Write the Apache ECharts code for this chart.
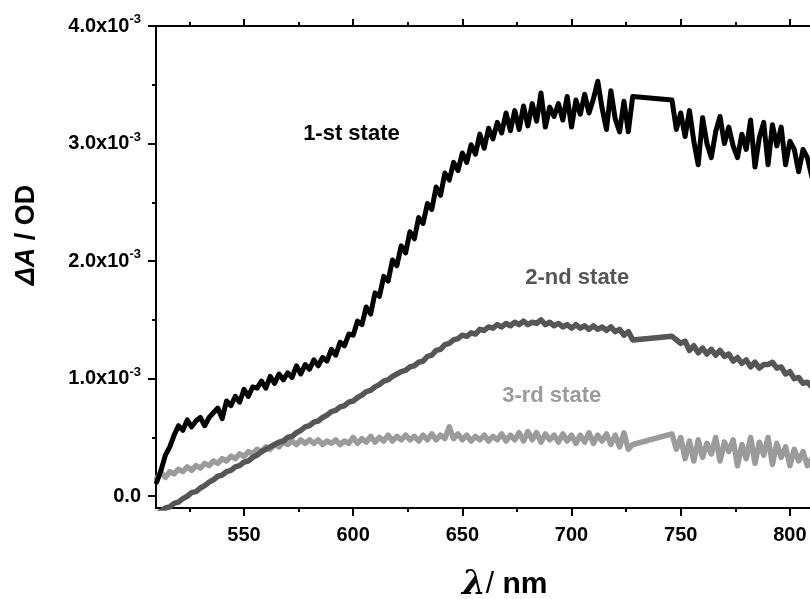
<!DOCTYPE html>
<html>
<head>
<meta charset="utf-8">
<title>Transient absorption states</title>
<script src="https://cdn.jsdelivr.net/npm/echarts@6/dist/echarts.min.js"></script>
<style>
  html, body { margin: 0; padding: 0; background: #fff; }
  #chart { width: 810px; height: 599px; }
</style>
</head>
<body>
<div id="chart"></div>
<script>
// wavelength, nm (no data between 728 and 746 nm)
const wavelength = [
  510, 512, 514, 516, 518, 520, 522, 524, 526, 528,
  530, 532, 534, 536, 538, 540, 542, 544, 546, 548,
  550, 552, 554, 556, 558, 560, 562, 564, 566, 568,
  570, 572, 574, 576, 578, 580, 582, 584, 586, 588,
  590, 592, 594, 596, 598, 600, 602, 604, 606, 608,
  610, 612, 614, 616, 618, 620, 622, 624, 626, 628,
  630, 632, 634, 636, 638, 640, 642, 644, 646, 648,
  650, 652, 654, 656, 658, 660, 662, 664, 666, 668,
  670, 672, 674, 676, 678, 680, 682, 684, 686, 688,
  690, 692, 694, 696, 698, 700, 702, 704, 706, 708,
  710, 712, 714, 716, 718, 720, 722, 724, 726, 728,
  746, 748, 750, 752, 754, 756, 758, 760, 762, 764,
  766, 768, 770, 772, 774, 776, 778, 780, 782, 784,
  786, 788, 790, 792, 794, 796, 798, 800, 802, 804,
  806, 808, 810
];

// ΔA in units of 1e-3 OD
const state1 = [
  0.12, 0.22, 0.35, 0.42, 0.52, 0.60, 0.56, 0.65, 0.59, 0.64,
  0.67, 0.60, 0.67, 0.71, 0.75, 0.66, 0.81, 0.77, 0.85, 0.80,
  0.91, 0.85, 0.93, 0.92, 0.98, 0.92, 1.02, 0.96, 1.04, 0.99,
  1.05, 1.01, 1.11, 1.04, 1.12, 1.08, 1.16, 1.11, 1.18, 1.15,
  1.25, 1.20, 1.31, 1.28, 1.38, 1.37, 1.49, 1.46, 1.61, 1.55,
  1.73, 1.70, 1.87, 1.83, 2.01, 1.96, 2.13, 2.07, 2.25, 2.19,
  2.37, 2.32, 2.49, 2.44, 2.63, 2.56, 2.75, 2.69, 2.84, 2.77,
  2.92, 2.84, 2.99, 2.91, 3.08, 2.96, 3.13, 3.04, 3.18, 3.09,
  3.26, 3.11, 3.28, 3.12, 3.32, 3.15, 3.34, 3.19, 3.43, 3.14,
  3.31, 3.23, 3.34, 3.20, 3.40, 3.14, 3.37, 3.25, 3.42, 3.26,
  3.38, 3.53, 3.30, 3.12, 3.45, 3.21, 3.10, 3.36, 3.10, 3.40,
  3.37, 3.12, 3.26, 3.06, 3.28, 3.02, 2.82, 3.22, 3.00, 2.88,
  3.10, 3.23, 3.00, 3.14, 2.98, 2.88, 3.08, 2.95, 3.20, 2.80,
  3.05, 3.18, 2.82, 3.16, 2.98, 3.14, 2.82, 3.02, 2.95, 2.76,
  2.95, 2.88, 2.72
];
const state2 = [
  -0.15, -0.13, -0.10, -0.09, -0.06, -0.05, -0.02, 0.00, 0.03, 0.04,
  0.07, 0.09, 0.12, 0.14, 0.17, 0.18, 0.21, 0.22, 0.25, 0.26,
  0.29, 0.30, 0.33, 0.35, 0.38, 0.40, 0.42, 0.44, 0.46, 0.47,
  0.50, 0.51, 0.54, 0.56, 0.59, 0.60, 0.63, 0.64, 0.67, 0.69,
  0.72, 0.73, 0.76, 0.77, 0.80, 0.81, 0.84, 0.86, 0.89, 0.90,
  0.93, 0.95, 0.98, 0.99, 1.02, 1.04, 1.06, 1.07, 1.10, 1.11,
  1.14, 1.15, 1.19, 1.20, 1.24, 1.25, 1.29, 1.30, 1.33, 1.34,
  1.37, 1.36, 1.39, 1.38, 1.42, 1.41, 1.44, 1.43, 1.46, 1.44,
  1.47, 1.45, 1.48, 1.46, 1.49, 1.46, 1.48, 1.47, 1.50, 1.46,
  1.48, 1.45, 1.47, 1.44, 1.46, 1.43, 1.46, 1.43, 1.45, 1.42,
  1.45, 1.42, 1.44, 1.41, 1.44, 1.40, 1.42, 1.37, 1.40, 1.33,
  1.36, 1.33, 1.30, 1.32, 1.24, 1.28, 1.22, 1.26, 1.21, 1.25,
  1.20, 1.24, 1.19, 1.21, 1.15, 1.18, 1.13, 1.16, 1.10, 1.14,
  1.09, 1.12, 1.12, 1.14, 1.09, 1.10, 1.04, 1.06, 1.00, 1.01,
  0.96, 0.97, 0.93
];
const state3 = [
  0.15, 0.20, 0.16, 0.21, 0.19, 0.23, 0.21, 0.25, 0.22, 0.26,
  0.24, 0.28, 0.26, 0.30, 0.28, 0.32, 0.30, 0.34, 0.32, 0.36,
  0.34, 0.38, 0.36, 0.40, 0.38, 0.42, 0.40, 0.44, 0.42, 0.46,
  0.44, 0.47, 0.44, 0.48, 0.45, 0.48, 0.45, 0.48, 0.44, 0.47,
  0.45, 0.48, 0.44, 0.47, 0.45, 0.50, 0.45, 0.49, 0.46, 0.51,
  0.46, 0.50, 0.47, 0.52, 0.47, 0.51, 0.48, 0.52, 0.48, 0.51,
  0.47, 0.52, 0.48, 0.53, 0.48, 0.52, 0.49, 0.59, 0.49, 0.53,
  0.48, 0.52, 0.47, 0.51, 0.48, 0.52, 0.47, 0.51, 0.48, 0.53,
  0.47, 0.52, 0.48, 0.54, 0.47, 0.55, 0.48, 0.54, 0.46, 0.53,
  0.48, 0.52, 0.46, 0.53, 0.47, 0.52, 0.45, 0.52, 0.46, 0.54,
  0.45, 0.52, 0.47, 0.53, 0.44, 0.52, 0.42, 0.54, 0.40, 0.44,
  0.53, 0.40, 0.50, 0.32, 0.47, 0.30, 0.48, 0.33, 0.45, 0.36,
  0.50, 0.30, 0.46, 0.38, 0.48, 0.26, 0.44, 0.32, 0.50, 0.28,
  0.46, 0.35, 0.50, 0.27, 0.45, 0.33, 0.42, 0.26, 0.40, 0.30,
  0.38, 0.26, 0.32
];

const stateNames = ['1-st state', '2-nd state', '3-rd state'];
const stateColors = ['#000000', '#565656', '#9b9b9b'];
const stateWidths = [5, 5.5, 5.5];
// label anchors in data coordinates [nm, ΔA/1e-3]
const labelAt = [[599.2, 3.085], [702.6, 1.86], [690.9, 0.852]];

const xMajor = [550, 600, 650, 700, 750, 800];
const xMinor = [525, 575, 625, 675, 725, 775];
const yMajor = [0, 1, 2, 3, 4];
const yMinor = [0.5, 1.5, 2.5, 3.5];
const xRange = [509.7, 809.2];
const yRange = [-0.1, 4.0];

const FONT = '"Liberation Sans", Arial, sans-serif';
const chart = echarts.init(document.getElementById('chart'), null, { renderer: 'canvas' });

const pairs = vals => wavelength.map((w, i) => [w, vals[i]]);

const tick = (vals, len) => ({
  show: true, inside: false, length: len, customValues: vals,
  lineStyle: { color: '#000', width: 2 }
});
const line = show => ({ show: show, onZero: false, lineStyle: { color: '#000', width: 2 } });

function xAx(pos, vals, len, showLine, labels) {
  return {
    type: 'value', position: pos, min: xRange[0], max: xRange[1],
    splitLine: { show: false },
    axisLine: line(showLine),
    axisTick: tick(vals, len),
    axisLabel: labels ? {
      show: true, customValues: vals, margin: 17, color: '#000',
      fontFamily: FONT, fontWeight: 'bold', fontSize: 20
    } : { show: false }
  };
}
function yAx(vals, len, labels) {
  return {
    type: 'value', position: 'left', min: yRange[0], max: yRange[1],
    splitLine: { show: false },
    axisLine: line(labels),
    axisTick: tick(vals, len),
    axisLabel: labels ? {
      show: true, customValues: vals, margin: 15, color: '#000',
      formatter: v => v === 0 ? '{b|0.0}' : '{b|' + v.toFixed(1) + 'x10}{s|-3}',
      rich: {
        b: { fontFamily: FONT, fontWeight: 'bold', fontSize: 20, color: '#000', lineHeight: 26 },
        s: { fontFamily: FONT, fontWeight: 'bold', fontSize: 13, color: '#000', verticalAlign: 'top', lineHeight: 26 }
      }
    } : { show: false }
  };
}

const lineSeries = [2, 1, 0].map((idx, k) => ({
  name: stateNames[idx],
  type: 'line',
  data: pairs([state1, state2, state3][idx]),
  showSymbol: false,
  symbol: 'none',
  lineStyle: { color: stateColors[idx], width: stateWidths[idx], join: 'round', cap: 'round' },
  z: 3 + k
}));

const option = {
  animation: false,
  backgroundColor: '#fff',
  grid: { left: 156, right: 0, top: 26, bottom: 91, containLabel: false, outerBoundsMode: 'none' },
  xAxis: [
    xAx('bottom', xMajor, 8, true, true),
    xAx('bottom', xMinor, 4, false, false),
    xAx('top', xMajor, 7, true, false),
    xAx('top', xMinor, 4, false, false)
  ],
  yAxis: [
    yAx(yMajor, 8, true),
    yAx(yMinor, 4, false)
  ],
  series: lineSeries.concat([{
    type: 'scatter',
    silent: true,
    symbolSize: 1,
    itemStyle: { color: 'rgba(255,255,255,0)' },
    z: 10,
    data: labelAt.map((p, i) => ({
      value: p,
      name: stateNames[i],
      label: { color: stateColors[i] }
    })),
    label: {
      show: true, position: 'inside', formatter: '{b}',
      fontFamily: FONT, fontWeight: 'bold', fontSize: 22,
      textBorderWidth: 0, opacity: 1
    }
  }]),
  graphic: [
    {
      type: 'text', x: 27, y: 235, rotation: Math.PI / 2,
      style: {
        text: '{i|ΔA}{n| / OD}', align: 'center', verticalAlign: 'middle',
        rich: {
          i: { fontFamily: FONT, fontStyle: 'italic', fontWeight: 'bold', fontSize: 27, fill: '#000' },
          n: { fontFamily: FONT, fontWeight: 'bold', fontSize: 27, fill: '#000' }
        }
      }
    },
    {
      type: 'text', x: 462, y: 585,
      style: {
        text: '{l|λ}{s|/}{n| nm}', align: 'left', verticalAlign: 'middle',
        rich: {
          l: { fontFamily: '"DejaVu Serif", serif', fontStyle: 'italic', fontWeight: 'bold', fontSize: 34, fill: '#000' },
          s: { fontFamily: FONT, fontWeight: 'normal', fontSize: 30, fill: '#000' },
          n: { fontFamily: FONT, fontWeight: 'bold', fontSize: 30, fill: '#000' }
        }
      }
    }
  ]
};

chart.setOption(option);
</script>
</body>
</html>
